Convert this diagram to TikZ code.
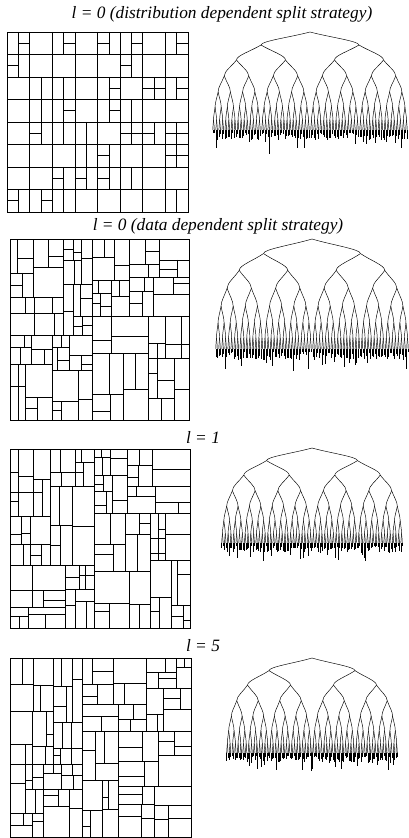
\documentclass[tikz,border=0pt]{standalone}
\usepackage{fontspec}
\setmainfont{Liberation Serif}
\usetikzlibrary{calc}

% kd split of a cell: x0, y0, x1, y1, depth, axis (0 = vertical cut)
\newcommand{\kdcell}[6]{%
  \begingroup
  \pgfmathsetmacro\kdr{rnd}%
  \pgfmathsetmacro\kdside{(#6==0)*(#3-#1)+(#6==1)*(#4-#2)}%
  \pgfmathtruncatemacro\kdstop{or(or(#5>=\kdmax, \kdside<\kdsmall), and(#5>=\kdmin, \kdr<(#5-\kdmin+1)*\kdstep))}%
  \ifnum\kdstop=0
    \pgfmathsetmacro\kdf{\kdlo+(1-2*\kdlo)*rnd}%
    \pgfmathtruncatemacro\kdd{#5+1}%
    \ifnum#6=0
      \pgfmathsetmacro\kds{#1+\kdf*(#3-#1)}%
      \draw[cut] (\kds,#2) -- (\kds,#4);
      \edef\kdnext{\noexpand\kdcell{#1}{#2}{\kds}{#4}{\kdd}{1}\noexpand\kdcell{\kds}{#2}{#3}{#4}{\kdd}{1}}%
    \else
      \pgfmathsetmacro\kds{#2+\kdf*(#4-#2)}%
      \draw[cut] (#1,\kds) -- (#3,\kds);
      \edef\kdnext{\noexpand\kdcell{#1}{#2}{#3}{\kds}{\kdd}{0}\noexpand\kdcell{#1}{\kds}{#3}{#4}{\kdd}{0}}%
    \fi
    \kdnext
  \fi
  \endgroup}

% tree branch: x, level, child offset
\def\lvly{{0,13,28,44,60,75,88,98}}
\newcommand{\tbranch}[3]{%
  \begingroup
  \pgfmathsetmacro\tpy{\troot+\tscale*\lvly[#2]}%
  \ifnum#2<7
    \pgfmathtruncatemacro\tnl{#2+1}%
    \pgfmathsetmacro\tcy{\troot+\tscale*\lvly[\tnl]}%
    \pgfmathsetmacro\tay{\tpy+0.4*(\tcy-\tpy)}%
    \pgfmathsetmacro\tby{\tpy+0.7*(\tcy-\tpy)}%
    \pgfmathsetmacro\tlx{#1-#3}%
    \pgfmathsetmacro\trx{#1+#3}%
    \pgfmathsetmacro\tlax{#1-0.4*#3}%
    \pgfmathsetmacro\trax{#1+0.4*#3}%
    \pgfmathsetmacro\tho{#3/2}%
    \draw[branch] (#1,\tpy) .. controls (\tlax,\tay) and (\tlx,\tby) .. (\tlx,\tcy);
    \draw[branch] (#1,\tpy) .. controls (\trax,\tay) and (\trx,\tby) .. (\trx,\tcy);
    \edef\tnext{\noexpand\tbranch{\tlx}{\tnl}{\tho}\noexpand\tbranch{\trx}{\tnl}{\tho}}%
    \tnext
  \else
    \pgfmathsetmacro\tly{\tpy+\tscale*(3+7*rnd+(rnd<0.1)*9+(rnd<0.015)*14)}%
    \draw[branch] (#1,\tpy) -- (#1,\tly);
  \fi
  \endgroup}

\begin{document}
\begin{tikzpicture}[
    x=0.75pt, y=-0.75pt,
    title/.style={font=\fontsize{13}{15}\selectfont\itshape, inner sep=0pt},
    frame/.style={line width=0.6pt},
    cut/.style={line width=0.45pt},
    branch/.style={line width=0.35pt},
]
    \useasboundingbox (0,0) rectangle (409,838);

    % Panel 1: distribution dependent
    \node[title] (title1) at (222,14) {l = 0 (distribution dependent split strategy)};
    \pgfmathsetseed{11}
    \def\kdlo{0.5}\def\kdmin{6}\def\kdmax{8}\def\kdstep{0.3}\def\kdsmall{12}
    \kdcell{7}{32}{188}{212}{0}{0}
    \draw[frame] (7,32) rectangle (188,212);
    \def\troot{32}\def\tscale{1}
    \tbranch{310}{0}{49}

    % Panel 2: data dependent
    \node[title] (title2) at (218,226) {l = 0 (data dependent split strategy)};
    \pgfmathsetseed{23}
    \def\kdlo{0.32}\def\kdsmall{15}
    \kdcell{10}{239}{189}{420}{0}{0}
    \draw[frame] (10,239) rectangle (189,420);
    \def\troot{239}\def\tscale{1.12}
    \tbranch{312}{0}{48.5}

    % Panel 3: l = 1
    \node[title] (title3) at (203,437) {l = 1};
    \pgfmathsetseed{37}
    \kdcell{10}{449}{190}{628}{0}{0}
    \draw[frame] (10,449) rectangle (190,628);
    \def\troot{448}\def\tscale{0.97}
    \tbranch{312}{0}{45.5}

    % Panel 4: l = 5
    \node[title] (title4) at (203,646) {l = 5};
    \pgfmathsetseed{41}
    \kdcell{10}{658}{191}{837}{0}{0}
    \draw[frame] (10,658) rectangle (191,837);
    \def\troot{658}\def\tscale{0.97}
    \tbranch{312}{0}{43}
\end{tikzpicture}
\end{document}
